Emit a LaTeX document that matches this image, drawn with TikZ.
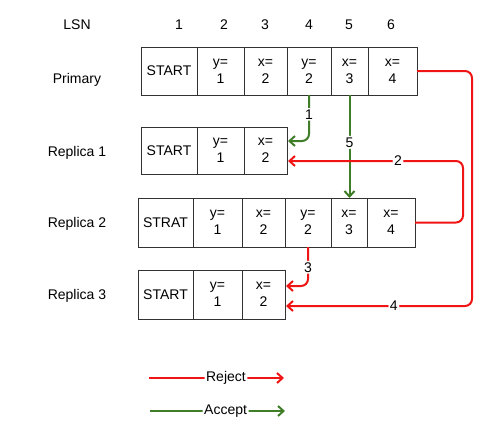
\documentclass[tikz,border=0pt]{standalone}
\usepackage{fontspec}
\setmainfont{Liberation Sans}
\usetikzlibrary{arrows.meta,calc}
\definecolor{rejred}{RGB}{240,20,20}
\definecolor{accgreen}{RGB}{64,125,40}
\definecolor{boxgray}{RGB}{50,50,50}
\begin{document}
\begin{tikzpicture}[x=1pt,y=-1pt,
  every node/.style={font=\fontsize{14}{17}\selectfont},
  cell/.style={draw=boxgray,line width=0.9pt,minimum height=48pt,inner sep=0pt,outer sep=0pt,align=center},
  rej/.style={draw=rejred,line width=2pt,-{Straight Barb[length=5.5pt,width=10pt]},rounded corners=7pt},
  acc/.style={draw=accgreen,line width=2pt,-{Straight Barb[length=5.5pt,width=10pt]},rounded corners=7pt},
  lbl/.style={fill=white,inner sep=1.5pt}]
\useasboundingbox (0,0) rectangle (495,439);
% header
\node (lsn) at (77,25) {LSN};
\node (n1) at (179,25) {1};
\node (n2) at (224,25) {2};
\node (n3) at (265,25) {3};
\node (n4) at (309,25) {4};
\node (n5) at (349,25) {5};
\node (n6) at (391,25) {6};
% row labels
\node (lp) at (77,80) {Primary};
\node (l1) at (77,153) {Replica 1};
\node (l2) at (77,224) {Replica 2};
\node (l3) at (77,296) {Replica 3};
% primary
\node[cell,minimum width=56pt] (p1) at (169,71) {START};
\node[cell,minimum width=47pt] (p2) at (220.5,71) {y=\\1};
\node[cell,minimum width=43pt] (p3) at (265.5,71) {x=\\2};
\node[cell,minimum width=44pt] (p4) at (309,71) {y=\\2};
\node[cell,minimum width=37pt] (p5) at (349.5,71) {x=\\3};
\node[cell,minimum width=49pt] (p6) at (392.5,71) {x=\\4};
% replica 1
\node[cell,minimum width=56pt,minimum height=47pt] (a1) at (169,150.5) {START};
\node[cell,minimum width=47pt,minimum height=47pt] (a2) at (220.5,150.5) {y=\\1};
\node[cell,minimum width=43pt,minimum height=47pt] (a3) at (265.5,150.5) {x=\\2};
% replica 2
\node[cell,minimum width=55pt,minimum height=49pt] (b1) at (165.5,222.5) {STRAT};
\node[cell,minimum width=49pt,minimum height=49pt] (b2) at (217.5,222.5) {y=\\1};
\node[cell,minimum width=43pt,minimum height=49pt] (b3) at (263.5,222.5) {x=\\2};
\node[cell,minimum width=46pt,minimum height=49pt] (b4) at (308,222.5) {y=\\2};
\node[cell,minimum width=36pt,minimum height=49pt] (b5) at (349,222.5) {x=\\3};
\node[cell,minimum width=48pt,minimum height=49pt] (b6) at (391,222.5) {x=\\4};
% replica 3
\node[cell,minimum width=55pt,minimum height=49pt] (c1) at (165.5,294.5) {START};
\node[cell,minimum width=49pt,minimum height=49pt] (c2) at (217.5,294.5) {y=\\1};
\node[cell,minimum width=43pt,minimum height=49pt] (c3) at (263.5,294.5) {x=\\2};
% arrow targets
\coordinate (t1) at ($(a3.east)+(1,-9.5)$);
\coordinate (t2) at ($(a3.east)+(1,10.5)$);
\coordinate (t3) at ($(c3.east)+(1,-8.5)$);
\coordinate (t4) at ($(c3.east)+(1,11.5)$);
% arrows
\draw[acc] (p4.south) |- node[lbl,pos=0.21] {1} (t1);
\draw[acc] (p5.south) -- node[lbl,pos=0.46] {5} (p5.south |- b5.north);
\draw[rej] (b6.east) -- ++(48,0) |- node[lbl,pos=0.686] {2} (t2);
\draw[rej] (b4.south) |- node[lbl,pos=0.26] {3} (t3);
\draw[rej] (p6.east) -- ++(55,0) |- node[lbl,pos=0.71] {4} (t4);
% legend
\coordinate (rs) at (149,378);
\coordinate (re) at (284,378);
\coordinate (as) at (150,411);
\coordinate (ae) at (285,411);
\draw[rej] (rs) -- node[lbl,pos=0.57] {Reject} (re);
\draw[acc] (as) -- node[lbl,pos=0.56] {Accept} (ae);
\end{tikzpicture}
\end{document}
